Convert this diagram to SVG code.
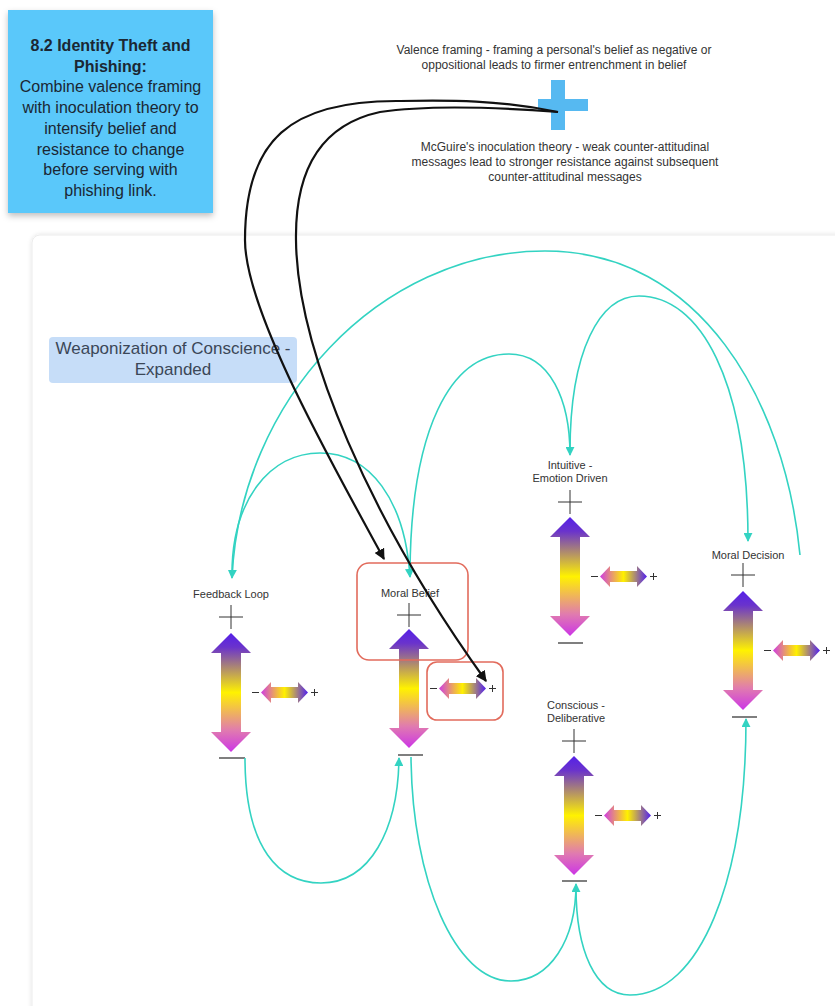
<svg xmlns="http://www.w3.org/2000/svg" xmlns:xlink="http://www.w3.org/1999/xlink" width="835" height="1006" viewBox="0 0 835 1006">
<defs>
<style>
.lbl{font-family:"Liberation Sans",Arial,sans-serif;font-size:11px;fill:#333;text-anchor:middle}
.note{font-family:"Liberation Sans",Arial,sans-serif;font-size:16px;fill:#1b2733;text-anchor:middle}
.desc{font-family:"Liberation Sans",Arial,sans-serif;font-size:12px;fill:#333;text-anchor:middle}
.title{font-family:"Liberation Sans",Arial,sans-serif;font-size:17px;fill:#3b4757;text-anchor:middle}
.pm{stroke:#333;stroke-width:1;fill:none}
.bar{stroke:#555;stroke-width:1.5;fill:none}
.teal{stroke:#33d3c2;stroke-width:1.6;fill:none}
.blk{stroke:#111;stroke-width:2.2;fill:none}
.red{stroke:#e26b5c;stroke-width:1.6;fill:none}
</style>
<linearGradient id="gv" x1="0" y1="0" x2="0" y2="1">
<stop offset="0" stop-color="#5520e8"/>
<stop offset="0.12" stop-color="#6a33cc"/>
<stop offset="0.5" stop-color="#fff200"/>
<stop offset="0.82" stop-color="#e07ab0"/>
<stop offset="1" stop-color="#cc35e6"/>
</linearGradient>
<linearGradient id="gh" x1="0" y1="0" x2="1" y2="0">
<stop offset="0" stop-color="#cf3de2"/>
<stop offset="0.5" stop-color="#fff000"/>
<stop offset="1" stop-color="#5220f0"/>
</linearGradient>
<path id="big" d="M20 0 L40 20 L30 20 L30 99 L40 99 L20 119 L0 99 L10 99 L10 20 L0 20 Z" fill="url(#gv)"/>
<path id="small" d="M0 10.5 L10 0 L10 5 L37 5 L37 0 L47 10.5 L37 21 L37 16 L10 16 L10 21 Z" fill="url(#gh)"/>
<marker id="ta" viewBox="0 0 10 10" refX="9" refY="5" markerWidth="9" markerHeight="9" markerUnits="userSpaceOnUse" orient="auto">
<path d="M0 0 L10 5 L0 10 Z" fill="#33d3c2"/>
</marker>
<marker id="ba" viewBox="0 0 10 10" refX="9" refY="5" markerWidth="11" markerHeight="11" markerUnits="userSpaceOnUse" orient="auto">
<path d="M0 0 L10 5 L0 10 Z" fill="#111"/>
</marker>
<filter id="sh" x="-10%" y="-10%" width="120%" height="125%">
<feDropShadow dx="0" dy="3" stdDeviation="3" flood-color="#000" flood-opacity="0.25"/>
</filter>
<filter id="sh2" x="-5%" y="-5%" width="110%" height="110%">
<feDropShadow dx="0" dy="0" stdDeviation="2" flood-color="#000" flood-opacity="0.12"/>
</filter>
</defs>
<rect width="835" height="1006" fill="#fff"/>

<!-- canvas panel -->
<rect x="32" y="235" width="830" height="800" rx="8" fill="#fff" stroke="#ececec" stroke-width="1" filter="url(#sh2)"/>

<!-- sticky note -->
<g id="note">
<rect x="8" y="10" width="205" height="203" fill="#5ac8fa" filter="url(#sh)"/>
<text class="note" x="110.5" y="51" font-weight="bold">8.2 Identity Theft and</text>
<text class="note" x="110.5" y="72" font-weight="bold">Phishing:</text>
<text class="note" x="110.5" y="92">Combine valence framing</text>
<text class="note" x="110.5" y="113">with inoculation theory to</text>
<text class="note" x="110.5" y="134">intensify belief and</text>
<text class="note" x="110.5" y="155">resistance to change</text>
<text class="note" x="110.5" y="175">before serving with</text>
<text class="note" x="110.5" y="196">phishing link.</text>
</g>

<!-- valence / inoculation -->
<g id="influence">
<text class="desc" x="554" y="54">Valence framing - framing a personal's belief as negative or</text>
<text class="desc" x="554" y="69">oppositional leads to firmer entrenchment in belief</text>
<rect x="551" y="80" width="14" height="50" fill="#56b9f1"/>
<rect x="538" y="99" width="50" height="12" fill="#56b9f1"/>
<text class="desc" x="565" y="151">McGuire's inoculation theory - weak counter-attitudinal</text>
<text class="desc" x="565" y="166">messages lead to stronger resistance against subsequent</text>
<text class="desc" x="565" y="181">counter-attitudinal messages</text>
</g>

<!-- title -->
<g id="title">
<rect x="49" y="337" width="248" height="46" rx="4" fill="#c6ddf8"/>
<text class="title" x="173" y="354">Weaponization of Conscience -</text>
<text class="title" x="173" y="375">Expanded</text>
</g>

<!-- nodes -->
<g id="feedback-loop">
<text class="lbl" x="231" y="598">Feedback Loop</text>
<path class="pm" d="M219 617 H243 M231 605 V629"/>
<use href="#big" x="211" y="633"/>
<use href="#small" x="261" y="682"/>
<path class="pm" d="M252 692.5 H259 M311 692.5 H318 M314.5 689 V696"/>
<path class="bar" d="M219 758 H245"/>
</g>

<g id="moral-belief">
<text class="lbl" x="410" y="597">Moral Belief</text>
<path class="pm" d="M397 615 H421 M409 603 V627"/>
<use href="#big" x="389" y="629"/>
<use href="#small" x="439" y="678"/>
<path class="pm" d="M430 688.5 H437 M489 688.5 H496 M492.5 685 V692"/>
<path class="bar" d="M398 755 H423"/>
</g>

<g id="intuitive">
<text class="lbl" x="570" y="469">Intuitive -</text>
<text class="lbl" x="570" y="482">Emotion Driven</text>
<path class="pm" d="M558 502 H582 M570 490 V514"/>
<use href="#big" x="550" y="517"/>
<use href="#small" x="600" y="566"/>
<path class="pm" d="M591 576.5 H598 M650 576.5 H657 M653.5 573 V580"/>
<path class="bar" d="M558 643 H583"/>
</g>

<g id="moral-decision">
<text class="lbl" x="748" y="559">Moral Decision</text>
<path class="pm" d="M731 575 H755 M743 563 V587"/>
<use href="#big" x="723" y="591"/>
<use href="#small" x="773" y="640"/>
<path class="pm" d="M764 650.5 H771 M823 650.5 H830 M826.5 647 V654"/>
<path class="bar" d="M732 717 H757"/>
</g>

<g id="conscious">
<text class="lbl" x="576" y="709">Conscious -</text>
<text class="lbl" x="576" y="722">Deliberative</text>
<path class="pm" d="M562 741 H586 M574 729 V753"/>
<use href="#big" x="554" y="756"/>
<use href="#small" x="604" y="805"/>
<path class="pm" d="M595 815.5 H602 M654 815.5 H661 M657.5 812 V819"/>
<path class="bar" d="M562 881 H587"/>
</g>

<!-- highlight boxes -->
<g id="highlights">
<rect class="red" x="357" y="563" width="111" height="97" rx="12"/>
<rect class="red" x="427" y="662" width="76" height="58" rx="10"/>
</g>

<!-- connectors -->
<g id="connectors">
<path class="teal" marker-end="url(#ta)" d="M800 555 C785 400 700 251 545 251 C380 251 240 400 232 578"/>
<path class="teal" marker-end="url(#ta)" d="M232 574 C232 500 270 453 320 453 C370 453 405 500 410 577"/>
<path class="teal" marker-end="url(#ta)" d="M410 572 C411 430 450 354 509 354 C550 354 570 400 570 455"/>
<path class="teal" marker-end="url(#ta)" d="M570 452 C570 350 600 296 639 296 C700 296 748 380 748 541"/>
<path class="teal" marker-end="url(#ta)" d="M245 758 C245 850 280 883 321 883 C370 883 398 830 399 758"/>
<path class="teal" marker-end="url(#ta)" d="M411 757 C412 880 455 981 511 981 C550 981 576 940 576 884"/>
<path class="teal" marker-end="url(#ta)" d="M576 887 C576 950 595 995 630 995 C700 995 746 880 746 719"/>
<path class="blk" marker-end="url(#ba)" d="M558 112 C500 100 450 100 400 101 C290 100 245 140 245 240 C245 310 330 460 384 559"/>
<path class="blk" marker-end="url(#ba)" d="M558 112 C480 106 420 106 380 112 C320 125 295 170 296 240 C297 350 370 520 486 681"/>
</g>
</svg>
